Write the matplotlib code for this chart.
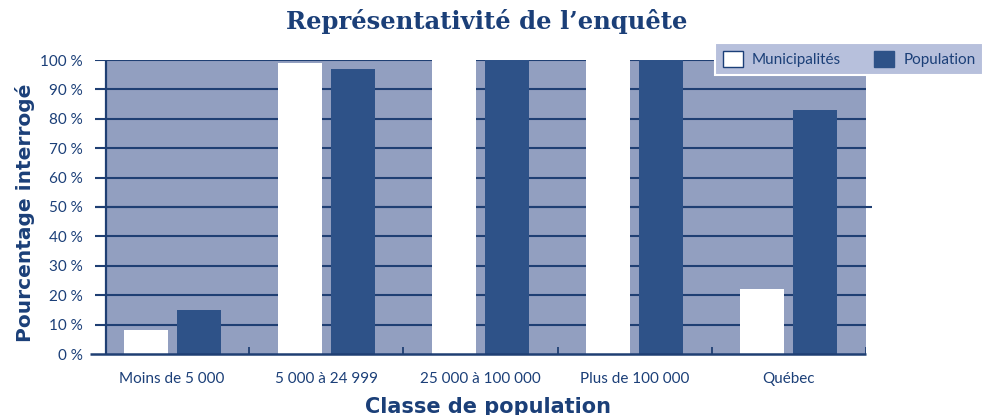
import matplotlib
matplotlib.use("Agg")
import matplotlib.pyplot as plt
import numpy as np
from matplotlib.patches import Patch

categories = ["Moins de 5 000", "5 000 à 24 999", "25 000 à 100 000", "Plus de 100 000", "Québec"]
municipalites = [8, 99, 100, 100, 22]
population = [15, 97, 100, 100, 83]
yticks = [0, 10, 20, 30, 40, 50, 60, 70, 80, 90, 100]
ytick_labels = [f"{v} %" for v in yticks]

NAVY = "#1b3f78"
BG = "#929fc0"
DARK = "#2e5288"
GRID = "#1f3f73"

plt.rcParams['font.family'] = ['Lato', 'DejaVu Sans']

fig = plt.figure(figsize=(9.84, 4.15), dpi=100)
W, H = 984, 415
ax = fig.add_axes([95 / W, 61 / H, (866 - 95) / W, 294 / H])
ax.set_xlim(0, 5)
ax.set_ylim(0, 100)
ax.patch.set_alpha(0)
for s in ax.spines.values():
    s.set_visible(False)

x0 = 11 / 154.2
ax.axvspan(x0, 5, color=BG, zorder=0, lw=0)
ax.axvline(x0, color=GRID, lw=1.6, zorder=3)
for v in yticks[1:]:
    ax.axhline(v, color=GRID, lw=1.5, zorder=1)
ax.hlines(50, 0, 5.04, color=GRID, lw=1.5, zorder=1, clip_on=False)
ax.hlines(0, -0.03, 5, color=GRID, lw=1.8, zorder=3, clip_on=False)
for i in range(1, 6):
    ax.vlines(i, 0, 2.5, color=GRID, lw=1.3, zorder=3)

x = np.arange(5) + 0.5
bw = 0.285
ax.bar(x - 0.172, municipalites, width=bw, color="white", zorder=2, lw=0)
ax.bar(x + 0.172, population, width=bw, color=DARK, zorder=2, lw=0)

ax.set_yticks(yticks)
ax.set_yticklabels(ytick_labels, fontsize=11, color=NAVY)
ax.tick_params(axis='y', length=0, pad=9)
ax.set_xticks(x)
ax.set_xticklabels(categories, fontsize=11, color=NAVY)
ax.tick_params(axis='x', length=0, pad=13)

ax.set_ylabel("Pourcentage interrogé", fontsize=14.5, fontweight='bold', color=NAVY,
              family=['DejaVu Sans'])
ax.yaxis.set_label_coords(-0.078, 0.48)
ax.set_xlabel("Classe de population", fontsize=15, fontweight='bold', color=NAVY,
              family=['DejaVu Sans'])
ax.xaxis.set_label_coords((488 - 95) / (866 - 95), -0.145)

fig.text(487 / W, 1 - 22 / H, "Représentativité de l’enquête", ha='center', va='center',
         fontsize=17.5, fontweight='bold', color=NAVY, family=['DejaVu Serif'])

handles = [Patch(facecolor='white', edgecolor=NAVY, lw=1.0), Patch(facecolor=DARK, edgecolor=DARK)]
leg = fig.legend(handles, ["Municipalités", "Population"], ncol=2, loc='upper left',
                 bbox_to_anchor=(715 / W, 1 - 43 / H), frameon=True, fancybox=False,
                 fontsize=11, handlelength=1.3, handleheight=1.3, columnspacing=2.2,
                 handletextpad=0.6, borderpad=0.5, borderaxespad=0)
leg.get_frame().set_facecolor("#b7c0dc")
leg.get_frame().set_edgecolor("white")
leg.get_frame().set_linewidth(1.5)
leg.get_frame().set_alpha(1)
for t in leg.get_texts():
    t.set_color(NAVY)

fig.savefig("out.png", dpi=100)
